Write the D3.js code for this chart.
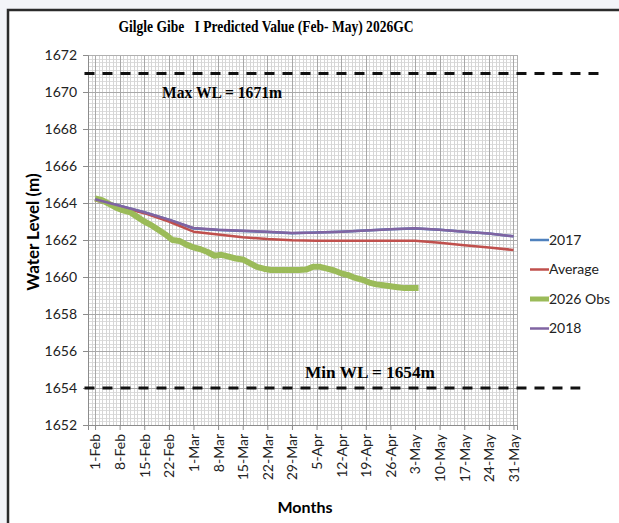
<!DOCTYPE html>
<html>
<head>
<meta charset="utf-8">
<script src="https://cdn.jsdelivr.net/npm/d3@7"></script>
<style>
  html, body { margin: 0; padding: 0; background: #f3f4f8; }
  svg { display: block; }
</style>
</head>
<body>
<svg id="chart" width="619" height="523"></svg>
<script>
// days counted from 1-Feb-2026
const startDate = new Date(Date.UTC(2026, 1, 1));

const tickLabels = ["1-Feb", "8-Feb", "15-Feb", "22-Feb", "1-Mar", "8-Mar", "15-Mar", "22-Mar", "29-Mar",
  "5-Apr", "12-Apr", "19-Apr", "26-Apr", "3-May", "10-May", "17-May", "24-May", "31-May"];

const weeklyDays = [0, 7, 14, 21, 28, 35, 42, 49, 56, 63, 70, 77, 84, 91, 98, 105, 112, 119];
const wl2017 = [1664.2, 1663.85, 1663.5, 1663.1, 1662.62, 1662.54, 1662.48, 1662.43, 1662.37, 1662.4, 1662.45, 1662.52, 1662.58, 1662.62, 1662.55, 1662.45, 1662.35, 1662.2];
const wlAverage = [1664.15, 1663.8, 1663.45, 1663.0, 1662.45, 1662.3, 1662.15, 1662.05, 1661.98, 1661.96, 1661.96, 1661.96, 1661.96, 1661.96, 1661.85, 1661.72, 1661.6, 1661.46];
const wl2018 = [1664.2, 1663.85, 1663.5, 1663.1, 1662.65, 1662.55, 1662.5, 1662.45, 1662.38, 1662.4, 1662.45, 1662.52, 1662.58, 1662.63, 1662.55, 1662.45, 1662.35, 1662.2];

const obsDays = [0, 2, 4, 6, 8, 10, 12, 14, 16, 18, 20, 22, 24, 26, 28, 30, 32, 34, 36, 38, 40, 42, 44, 46, 48, 50,
  52, 54, 56, 58, 60, 62, 64, 66, 68, 70, 72, 74, 76, 78, 80, 82, 84, 86, 88, 90, 92];
const wl2026Obs = [1664.25, 1664.15, 1663.95, 1663.75, 1663.6, 1663.5, 1663.25, 1663.0, 1662.8, 1662.55, 1662.3, 1662.0,
  1661.95, 1661.75, 1661.6, 1661.5, 1661.35, 1661.15, 1661.2, 1661.1, 1661.0, 1660.95, 1660.75, 1660.55, 1660.45, 1660.38,
  1660.38, 1660.38, 1660.38, 1660.38, 1660.4, 1660.55, 1660.55, 1660.45, 1660.35, 1660.2, 1660.1, 1659.95, 1659.85, 1659.7,
  1659.6, 1659.55, 1659.5, 1659.45, 1659.4, 1659.4, 1659.4];

const maxWL = 1671, minWL = 1654;

const seriesNames = ["2017", "Average", "2026 Obs", "2018"];
const seriesColors = ["#4f81bd", "#c0504d", "#9bbb59", "#8064a2"];

const day = d => d3.utcDay.offset(startDate, d);

const svg = d3.select("#chart");
const plot = {left: 88, right: 517, top: 55, bottom: 425};

// white panel with dark frame
svg.append("rect")
    .attr("x", 8).attr("y", 10).attr("width", 640).attr("height", 540)
    .attr("fill", "#fff").attr("stroke", "#2b2b2b").attr("stroke-width", 2.5);

const x = d3.scaleUtc()
    .domain([day(-1.5), day(120.5)])
    .range([plot.left, plot.right]);
const y = d3.scaleLinear()
    .domain([1652, 1672])
    .range([plot.bottom, plot.top]);

// grid
const grid = svg.append("g");
grid.selectAll("line.hminor").data(d3.range(1652, 1672.01, 0.2))
  .enter().append("line")
    .attr("x1", plot.left).attr("x2", plot.right)
    .attr("y1", d => Math.round(y(d)) + 0.5).attr("y2", d => Math.round(y(d)) + 0.5)
    .attr("stroke", "#dcdcdc").attr("stroke-width", 1);
grid.selectAll("line.vminor").data(d3.range(-1, 121))
  .enter().append("line")
    .attr("y1", plot.top).attr("y2", plot.bottom)
    .attr("x1", d => Math.round(x(day(d))) + 0.5).attr("x2", d => Math.round(x(day(d))) + 0.5)
    .attr("stroke", "#d6d6d6").attr("stroke-width", 1);
grid.selectAll("line.hmajor").data(d3.range(1652, 1673, 2))
  .enter().append("line")
    .attr("x1", plot.left).attr("x2", plot.right)
    .attr("y1", d => Math.round(y(d)) + 0.5).attr("y2", d => Math.round(y(d)) + 0.5)
    .attr("stroke", "#a8a8a8").attr("stroke-width", 1);
grid.selectAll("line.vmajor").data(weeklyDays)
  .enter().append("line")
    .attr("y1", plot.top).attr("y2", plot.bottom)
    .attr("x1", d => Math.round(x(day(d))) + 0.5).attr("x2", d => Math.round(x(day(d))) + 0.5)
    .attr("stroke", "#a8a8a8").attr("stroke-width", 1);

svg.append("rect")
    .attr("x", plot.left + 0.5).attr("y", plot.top + 0.5)
    .attr("width", plot.right - plot.left).attr("height", plot.bottom - plot.top)
    .attr("fill", "none").attr("stroke", "#b0b0b0");

// axes
const yAxis = svg.append("g")
    .attr("transform", "translate(" + plot.left + ",0)")
    .call(d3.axisLeft(y).tickValues(d3.range(1652, 1673, 2)).tickFormat(d3.format("d")).tickSize(5).tickPadding(6));
const xAxis = svg.append("g")
    .attr("transform", "translate(0," + plot.bottom + ")")
    .call(d3.axisBottom(x).tickValues(weeklyDays.map(day)).tickFormat((d, i) => tickLabels[i]).tickSize(5));
[yAxis, xAxis].forEach(a => {
  a.select(".domain").attr("stroke", "#8c8c8c");
  a.selectAll(".tick line").attr("stroke", "#8c8c8c");
  a.selectAll("text").attr("fill", "#222").style("font-family", "Lato, sans-serif").style("font-size", "14px");
});
xAxis.selectAll("text")
    .attr("transform", "rotate(-90)")
    .attr("text-anchor", "end")
    .attr("x", -9).attr("y", 0).attr("dy", "0.35em");

// series lines
const line = d3.line().x(d => x(day(d[0]))).y(d => y(d[1]));
const seriesData = [
  d3.zip(weeklyDays, wl2017),
  d3.zip(weeklyDays, wlAverage),
  d3.zip(obsDays, wl2026Obs),
  d3.zip(weeklyDays, wl2018)
];
const widths = [2.5, 2.5, 6, 2.5];
seriesData.forEach((s, i) => {
  svg.append("path")
      .datum(s)
      .attr("d", line)
      .attr("fill", "none")
      .attr("stroke", seriesColors[i])
      .attr("stroke-width", widths[i])
      .attr("stroke-linejoin", "round");
});

// max / min reference lines
[[maxWL, 145], [minWL, 138]].forEach(r => {
  svg.append("line")
      .attr("x1", x(day(-3))).attr("x2", x(day(r[1])))
      .attr("y1", y(r[0])).attr("y2", y(r[0]))
      .attr("stroke", "#111").attr("stroke-width", 3)
      .attr("stroke-dasharray", "10,8");
});

const serif = "'Liberation Serif', 'Times New Roman', serif";
svg.append("text")
    .attr("x", 162).attr("y", y(maxWL) + 24)
    .attr("textLength", 120).attr("lengthAdjust", "spacingAndGlyphs")
    .style("font-family", serif).style("font-weight", "bold").style("font-size", "17px")
    .text("Max WL = 1671m");
svg.append("text")
    .attr("x", 305).attr("y", y(minWL) - 10)
    .attr("textLength", 130).attr("lengthAdjust", "spacingAndGlyphs")
    .style("font-family", serif).style("font-weight", "bold").style("font-size", "17px")
    .text("Min WL = 1654m");

// title
svg.append("text")
    .attr("x", 266).attr("y", 32)
    .attr("text-anchor", "middle")
    .attr("textLength", 295).attr("lengthAdjust", "spacingAndGlyphs")
    .style("white-space", "pre")
    .style("font-family", serif).style("font-weight", "bold").style("font-size", "16px")
    .text("Gilgle Gibe   I Predicted Value (Feb- May) 2026GC");

// axis titles
svg.append("text")
    .attr("transform", "translate(39,232) rotate(-90)")
    .attr("text-anchor", "middle")
    .style("font-family", "Lato, sans-serif").style("font-weight", "bold").style("font-size", "17px")
    .text("Water Level (m)");
svg.append("text")
    .attr("x", 305).attr("y", 513)
    .attr("text-anchor", "middle")
    .style("font-family", "Lato, sans-serif").style("font-weight", "bold").style("font-size", "16px")
    .text("Months");

// legend
const legend = svg.append("g").attr("transform", "translate(530,240)");
seriesNames.forEach((n, i) => {
  const g = legend.append("g").attr("transform", "translate(0," + i * 29.5 + ")");
  g.append("line").attr("x1", 0).attr("x2", 19).attr("y1", 0).attr("y2", 0)
      .attr("stroke", seriesColors[i]).attr("stroke-width", i === 2 ? 5 : 2.5);
  g.append("text").attr("x", 19).attr("y", 0).attr("dy", "0.35em")
      .style("font-family", "Lato, sans-serif").style("font-size", "14px").attr("fill", "#222")
      .text(n);
});
</script>
</body>
</html>
